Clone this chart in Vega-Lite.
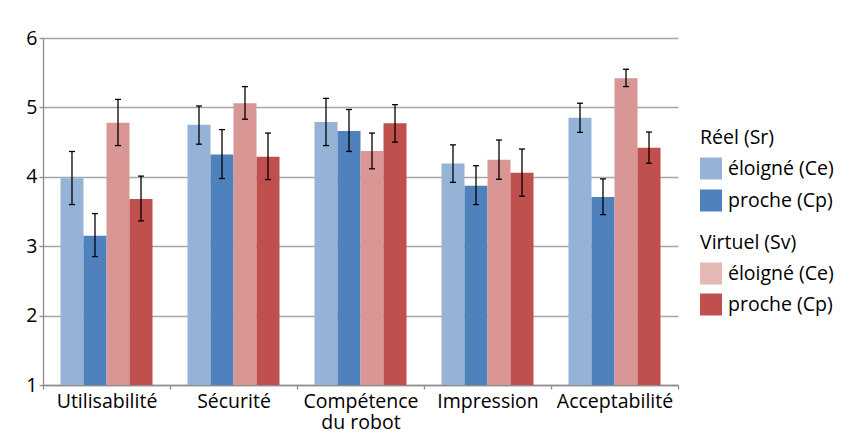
{
  "$schema": "https://vega.github.io/schema/vega-lite/v6.json",
  "autosize": {"type": "none"},
  "width": 635,
  "height": 347,
  "padding": {"left": 43, "top": 38, "right": 163, "bottom": 56},
  "background": "white",
  "config": {
    "font": "Open Sans",
    "view": {"stroke": null},
    "axis": {"labelFont": "Open Sans", "labelFontSize": 19.5, "labelColor": "#000000", "domainColor": "#8c8c8c", "tickColor": "#8c8c8c", "gridColor": "#a6a6a6", "gridWidth": 1.3, "domainWidth": 1.3, "tickWidth": 1.3},
    "legend": {"labelFont": "Open Sans", "labelFontSize": 19.5, "labelColor": "#000000", "titleFont": "Open Sans", "titleFontSize": 19.5, "titleFontWeight": "normal", "titleColor": "#000000", "padding": 0}
  },
  "data": {
    "values": [
      {"cat": "Utilisabilité", "sys": "Réel", "dist": "éloigné (Ce)", "series": "Réel éloigné", "mean": 3.98, "lo": 3.60, "hi": 4.365},
      {"cat": "Utilisabilité", "sys": "Réel", "dist": "proche (Cp)", "series": "Réel proche", "mean": 3.15, "lo": 2.85, "hi": 3.47},
      {"cat": "Utilisabilité", "sys": "Virtuel", "dist": "éloigné (Ce)", "series": "Virtuel éloigné", "mean": 4.78, "lo": 4.45, "hi": 5.115},
      {"cat": "Utilisabilité", "sys": "Virtuel", "dist": "proche (Cp)", "series": "Virtuel proche", "mean": 3.68, "lo": 3.365, "hi": 4.01},
      {"cat": "Sécurité", "sys": "Réel", "dist": "éloigné (Ce)", "series": "Réel éloigné", "mean": 4.75, "lo": 4.47, "hi": 5.02},
      {"cat": "Sécurité", "sys": "Réel", "dist": "proche (Cp)", "series": "Réel proche", "mean": 4.32, "lo": 3.975, "hi": 4.68},
      {"cat": "Sécurité", "sys": "Virtuel", "dist": "éloigné (Ce)", "series": "Virtuel éloigné", "mean": 5.06, "lo": 4.83, "hi": 5.30},
      {"cat": "Sécurité", "sys": "Virtuel", "dist": "proche (Cp)", "series": "Virtuel proche", "mean": 4.29, "lo": 3.96, "hi": 4.63},
      {"cat": "Compétence du robot", "sys": "Réel", "dist": "éloigné (Ce)", "series": "Réel éloigné", "mean": 4.79, "lo": 4.45, "hi": 5.13},
      {"cat": "Compétence du robot", "sys": "Réel", "dist": "proche (Cp)", "series": "Réel proche", "mean": 4.66, "lo": 4.365, "hi": 4.97},
      {"cat": "Compétence du robot", "sys": "Virtuel", "dist": "éloigné (Ce)", "series": "Virtuel éloigné", "mean": 4.37, "lo": 4.115, "hi": 4.63},
      {"cat": "Compétence du robot", "sys": "Virtuel", "dist": "proche (Cp)", "series": "Virtuel proche", "mean": 4.77, "lo": 4.50, "hi": 5.04},
      {"cat": "Impression", "sys": "Réel", "dist": "éloigné (Ce)", "series": "Réel éloigné", "mean": 4.19, "lo": 3.92, "hi": 4.46},
      {"cat": "Impression", "sys": "Réel", "dist": "proche (Cp)", "series": "Réel proche", "mean": 3.87, "lo": 3.60, "hi": 4.16},
      {"cat": "Impression", "sys": "Virtuel", "dist": "éloigné (Ce)", "series": "Virtuel éloigné", "mean": 4.245, "lo": 3.965, "hi": 4.53},
      {"cat": "Impression", "sys": "Virtuel", "dist": "proche (Cp)", "series": "Virtuel proche", "mean": 4.06, "lo": 3.72, "hi": 4.40},
      {"cat": "Acceptabilité", "sys": "Réel", "dist": "éloigné (Ce)", "series": "Réel éloigné", "mean": 4.85, "lo": 4.64, "hi": 5.06},
      {"cat": "Acceptabilité", "sys": "Réel", "dist": "proche (Cp)", "series": "Réel proche", "mean": 3.71, "lo": 3.455, "hi": 3.97},
      {"cat": "Acceptabilité", "sys": "Virtuel", "dist": "éloigné (Ce)", "series": "Virtuel éloigné", "mean": 5.42, "lo": 5.30, "hi": 5.55},
      {"cat": "Acceptabilité", "sys": "Virtuel", "dist": "proche (Cp)", "series": "Virtuel proche", "mean": 4.42, "lo": 4.195, "hi": 4.645}
    ]
  },
  "encoding": {
    "x": {
      "field": "cat", "type": "nominal", "sort": null,
      "scale": {"paddingInner": 0, "paddingOuter": 0},
      "axis": {"title": null, "labelAngle": 0, "tickBand": "extent", "tickSize": 4, "labelPadding": 3, "labelLineHeight": 21,
        "labelExpr": "datum.value == 'Compétence du robot' ? ['Compétence', 'du robot'] : datum.label"}
    },
    "xOffset": {
      "field": "series", "type": "nominal",
      "scale": {"domain": ["Réel éloigné", "Réel proche", "Virtuel éloigné", "Virtuel proche"], "paddingInner": 0, "paddingOuter": 0.76}
    }
  },
  "layer": [
    {
      "transform": [{"filter": "datum.sys == 'Réel'"}],
      "mark": {"type": "bar"},
      "encoding": {
        "y": {"field": "mean", "type": "quantitative",
          "scale": {"domain": [1, 6], "nice": false, "zero": false},
          "axis": {"title": null, "values": [1, 2, 3, 4, 5, 6], "format": "d", "tickSize": 4, "labelPadding": 2, "grid": true}},
        "y2": {"datum": 1},
        "color": {"field": "dist", "type": "nominal",
          "scale": {"domain": ["éloigné (Ce)", "proche (Cp)"], "range": ["#95b3d7", "#4f81bd"]},
          "legend": {"title": "Réel (Sr)", "orient": "none", "legendX": 657, "legendY": 91, "symbolType": "square", "symbolSize": 484, "symbolStrokeWidth": 0, "symbolOpacity": 1, "titlePadding": 9, "rowPadding": 10, "labelOffset": 6}}
      }
    },
    {
      "transform": [{"filter": "datum.sys == 'Virtuel'"}],
      "mark": {"type": "bar"},
      "encoding": {
        "y": {"field": "mean", "type": "quantitative"},
        "y2": {"datum": 1},
        "color": {"field": "dist", "type": "nominal",
          "scale": {"domain": ["éloigné (Ce)", "proche (Cp)"], "range": ["#d99694", "#c0504d"]},
          "legend": {"title": "Virtuel (Sv)", "orient": "none", "legendX": 657, "legendY": 196, "symbolType": "square", "symbolSize": 484, "symbolStrokeWidth": 0, "symbolOpacity": 1, "titlePadding": 9, "rowPadding": 9, "labelOffset": 6,
            "encode": {"symbols": {"update": {"fillOpacity": {"signal": "datum.value == 'éloigné (Ce)' ? 0.68 : 1"}}}}}}
      }
    },
    {
      "mark": {"type": "rule", "color": "#000000", "strokeWidth": 1.3},
      "encoding": {
        "y": {"field": "lo", "type": "quantitative"},
        "y2": {"field": "hi"}
      }
    },
    {
      "mark": {"type": "tick", "color": "#000000", "thickness": 1.3, "size": 6, "opacity": 1},
      "encoding": {"y": {"field": "lo", "type": "quantitative"}}
    },
    {
      "mark": {"type": "tick", "color": "#000000", "thickness": 1.3, "size": 6, "opacity": 1},
      "encoding": {"y": {"field": "hi", "type": "quantitative"}}
    }
  ],
  "resolve": {"scale": {"color": "independent"}}
}
